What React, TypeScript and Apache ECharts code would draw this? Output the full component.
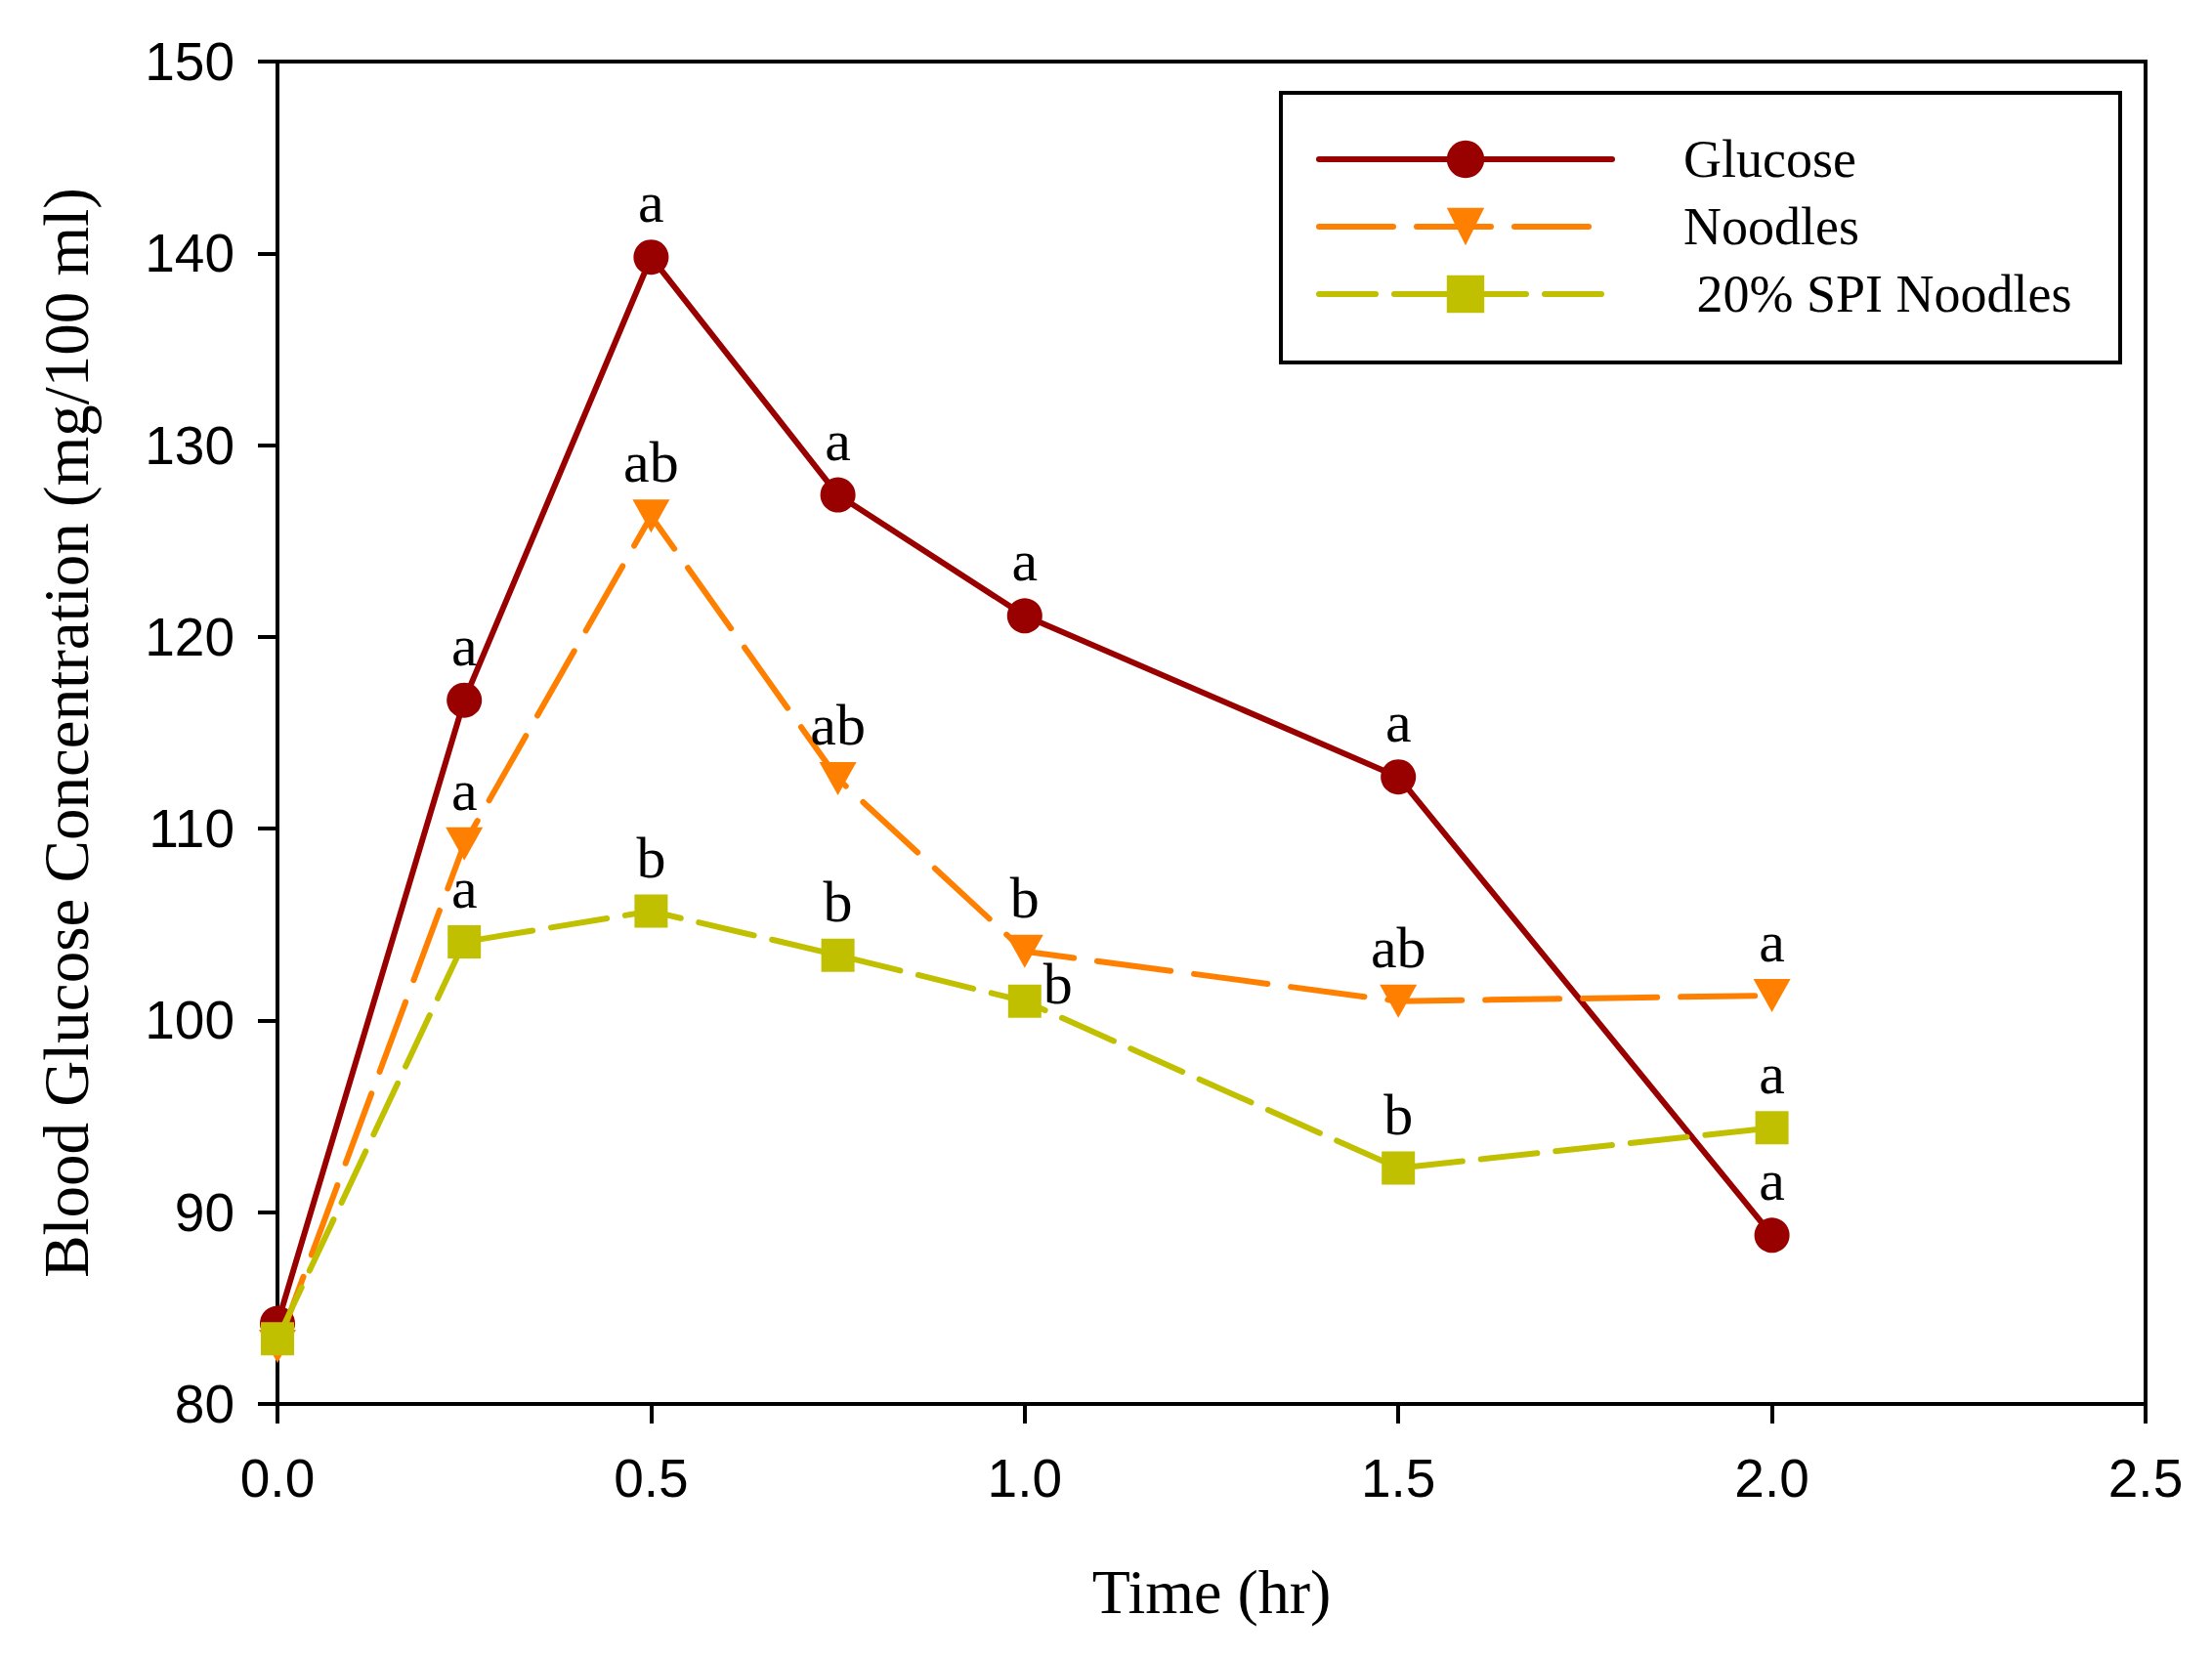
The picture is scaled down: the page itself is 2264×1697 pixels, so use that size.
import React, { useEffect, useRef } from "react";
import * as echarts from "echarts";

const times = [0, 0.25, 0.5, 0.75, 1.0, 1.5, 2.0];
const glucose = [84.2, 116.7, 139.8, 127.4, 121.1, 112.7, 88.8];
const noodles = [83.0, 109.2, 126.3, 112.6, 103.6, 101.0, 101.3];
const spiNoodles = [83.4, 104.1, 105.7, 103.4, 101.0, 92.3, 94.4];
const glucoseLetters = ["", "a", "a", "a", "a", "a", "a"];
const noodleLetters = ["", "a", "ab", "ab", "b", "ab", "a"];
const spiLetters = ["", "a", "b", "b", "b", "b", "a"];
const seriesNames = ["Glucose", "Noodles", " 20% SPI Noodles"];
const xTicks = { min: 0, max: 2.5, interval: 0.5 };
const yTicks = { min: 80, max: 150, interval: 10 };

const SERIF = "'Liberation Serif', 'Times New Roman', serif";
const NARROW = "'Liberation Sans Narrow', 'Arial Narrow', 'Liberation Sans', sans-serif";

const labelStyle = {
  fontFamily: SERIF,
  fontSize: 60,
  color: "#000",
};

function buildData(values: number[], letters: string[], sideIndex: number = -1) {
  return values.map((v, i) => {
    const item: any = { value: [times[i], v] };
    if (letters[i]) {
      item.label =
        i === sideIndex
          ? { show: true, formatter: letters[i], position: "right", distance: 2, offset: [0, -18], ...labelStyle }
          : { show: true, formatter: letters[i], position: "top", distance: 8, ...labelStyle };
    } else {
      item.label = { show: false };
    }
    return item;
  });
}

export default function App() {
  const ref = useRef<HTMLDivElement>(null);
  useEffect(() => {
    if (!ref.current) return;
    const chart = echarts.init(ref.current, null, { renderer: "svg" });
    chart.setOption({
      animation: false,
      backgroundColor: "#fff",
      grid: {
        left: 284,
        right: 68,
        top: 63,
        bottom: 260,
        show: true,
        borderColor: "#000",
        borderWidth: 4,
        backgroundColor: "transparent",
      },
      xAxis: {
        type: "value",
        min: xTicks.min,
        max: xTicks.max,
        interval: xTicks.interval,
        name: "Time (hr)",
        nameLocation: "middle",
        nameGap: 160,
        nameTextStyle: { fontFamily: SERIF, fontSize: 64, color: "#000" },
        axisLine: { show: true, lineStyle: { color: "#000", width: 4 } },
        axisTick: { show: true, inside: false, length: 20, lineStyle: { color: "#000", width: 4 } },
        axisLabel: {
          fontFamily: NARROW,
          fontSize: 55,
          color: "#000",
          margin: 48,
          formatter: (v: number) => v.toFixed(1),
        },
        splitLine: { show: false },
      },
      yAxis: {
        type: "value",
        min: yTicks.min,
        max: yTicks.max,
        interval: yTicks.interval,
        name: "Blood Glucose Concentration (mg/100 ml)",
        nameLocation: "middle",
        nameGap: 184,
        nameTextStyle: { fontFamily: SERIF, fontSize: 65, color: "#000" },
        axisLine: { show: true, lineStyle: { color: "#000", width: 4 } },
        axisTick: { show: true, inside: false, length: 20, lineStyle: { color: "#000", width: 4 } },
        axisLabel: { fontFamily: NARROW, fontSize: 55, color: "#000", margin: 44 },
        splitLine: { show: false },
      },
      legend: {
        orient: "vertical",
        left: 1347,
        top: 136,
        itemWidth: 300,
        itemHeight: 48,
        itemGap: 15,
        padding: 0,
        lineStyle: { width: 6 },
        textStyle: {
          fontFamily: SERIF,
          fontSize: 54,
          color: "#000",
          padding: [0, 0, 0, 68],
        },
        data: seriesNames,
      },
      graphic: [
        {
          type: "rect",
          shape: { x: 1311, y: 95, width: 859, height: 276 },
          style: { fill: "none", stroke: "#000", lineWidth: 4 },
          z: 1,
        },
      ],
      series: [
        {
          name: seriesNames[0],
          type: "line",
          data: buildData(glucose, glucoseLetters),
          symbol: "circle",
          symbolSize: 36,
          lineStyle: { color: "#990000", width: 6, cap: "round" },
          itemStyle: { color: "#990000" },
          z: 2,
        },
        {
          name: seriesNames[1],
          type: "line",
          data: buildData(noodles, noodleLetters),
          symbol: "triangle",
          symbolRotate: 180,
          symbolSize: [38, 34],
          lineStyle: { color: "#ff8000", width: 6, type: [76, 24], cap: "round" },
          itemStyle: { color: "#ff8000" },
          z: 3,
        },
        {
          name: seriesNames[2],
          type: "line",
          data: buildData(spiNoodles, spiLetters, 4),
          symbol: "rect",
          symbolSize: 34,
          lineStyle: { color: "#c0c000", width: 6, type: [58, 19], cap: "round" },
          itemStyle: { color: "#c0c000" },
          z: 4,
        },
      ],
    });
    return () => chart.dispose();
  }, []);
  return (
    <div
      ref={ref}
      style={{ position: "absolute", left: 0, top: 0, width: 2264, height: 1697, background: "#fff" }}
    />
  );
}
